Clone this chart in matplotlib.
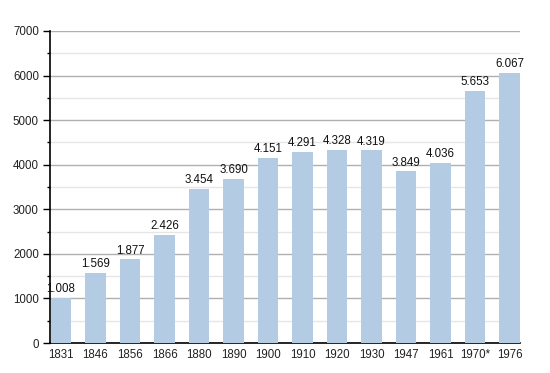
import matplotlib
matplotlib.use("Agg")
import matplotlib.pyplot as plt
from matplotlib.ticker import MultipleLocator

years = ["1831", "1846", "1856", "1866", "1880", "1890", "1900", "1910", "1920", "1930", "1947", "1961", "1970*", "1976"]
population = [1008, 1569, 1877, 2426, 3454, 3690, 4151, 4291, 4328, 4319, 3849, 4036, 5653, 6067]
labels = ["1.008", "1.569", "1.877", "2.426", "3.454", "3.690", "4.151", "4.291", "4.328", "4.319", "3.849", "4.036", "5.653", "6.067"]

plt.rcParams['font.family'] = ['Liberation Sans', 'DejaVu Sans']

fig = plt.figure(figsize=(5.5, 3.73), dpi=100)
ax = fig.add_axes([0.0909, 0.0804, 0.8545, 0.8366])

x = list(range(len(years)))
w = 0.6
bars = ax.bar(x, population, width=w, color='#b3cce4', zorder=3)
for xi, v, lab in zip(x, population, labels):
    ax.text(xi, v + 60, lab, ha='center', va='bottom', fontsize=8.3, color='#111111', zorder=4)

ax.set_xlim(-w / 2 - 0.02, len(years) - 1 + w / 2)
ax.set_ylim(0, 7000)
ax.set_xticks(x)
ax.set_xticklabels(years, fontsize=8.3, color='#222222')
ax.yaxis.set_major_locator(MultipleLocator(1000))
ax.yaxis.set_minor_locator(MultipleLocator(500))
ax.tick_params(axis='y', labelsize=8.3, labelcolor='#222222', length=5, width=1, pad=3)
ax.tick_params(axis='y', which='minor', length=2.5, width=1)
ax.tick_params(axis='x', length=0, pad=4)
ax.grid(axis='y', which='major', color='#b0b0b0', linewidth=1, zorder=0)
ax.grid(axis='y', which='minor', color='#e6e6e6', linewidth=1, zorder=0)
for s in ['top', 'right']:
    ax.spines[s].set_visible(False)
ax.spines['left'].set_linewidth(1.2)
ax.spines['bottom'].set_linewidth(1.2)

fig.savefig("out.png", dpi=100)
